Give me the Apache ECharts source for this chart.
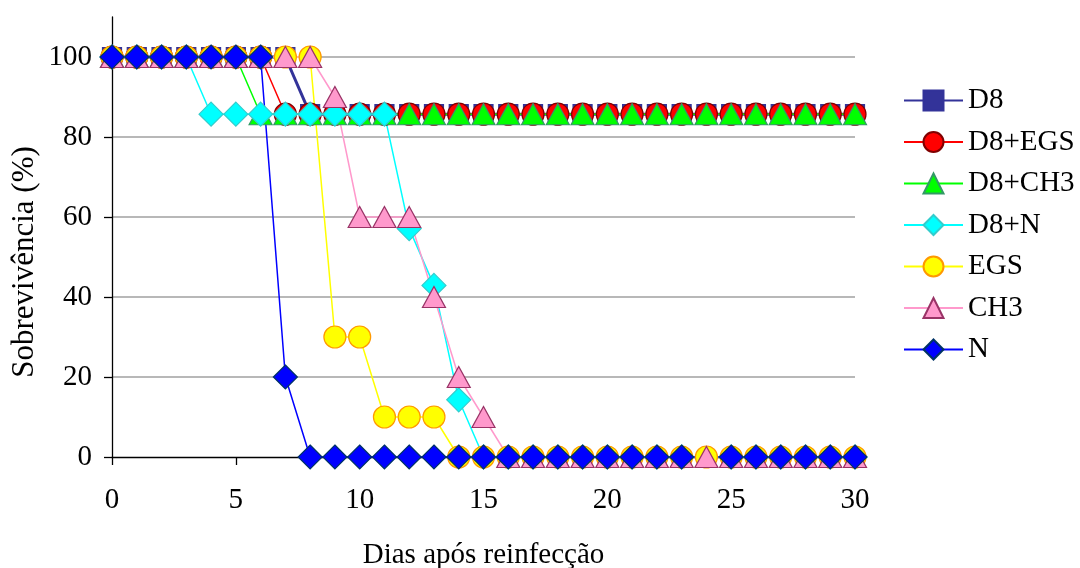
<!DOCTYPE html>
<html>
<head>
<meta charset="utf-8">
<script src="https://cdn.jsdelivr.net/npm/echarts@6/dist/echarts.min.js"></script>
<style>
  html, body { margin: 0; padding: 0; background: #fff; }
  #chart { width: 1080px; height: 568px; }
</style>
</head>
<body>
<div id="chart"></div>
<script>
// Days after reinfection
const days = [0,1,2,3,4,5,6,7,8,9,10,11,12,13,14,15,16,17,18,19,20,21,22,23,24,25,26,27,28,29,30];

// Survival (%) per group, one value per day
const d8 =     [100,100,100,100,100,100,100,100,85.7,85.7,85.7,85.7,85.7,85.7,85.7,85.7,85.7,85.7,85.7,85.7,85.7,85.7,85.7,85.7,85.7,85.7,85.7,85.7,85.7,85.7,85.7];
const d8Egs =  [100,100,100,100,100,100,100,85.7,85.7,85.7,85.7,85.7,85.7,85.7,85.7,85.7,85.7,85.7,85.7,85.7,85.7,85.7,85.7,85.7,85.7,85.7,85.7,85.7,85.7,85.7,85.7];
const d8Ch3 =  [100,100,100,100,100,100,85.7,85.7,85.7,85.7,85.7,85.7,85.7,85.7,85.7,85.7,85.7,85.7,85.7,85.7,85.7,85.7,85.7,85.7,85.7,85.7,85.7,85.7,85.7,85.7,85.7];
const d8N =    [100,100,100,100,85.7,85.7,85.7,85.7,85.7,85.7,85.7,85.7,57.1,42.9,14.3,0,0,0,0,0,0,0,0,0,null,0,0,0,0,0,0];
const egs =    [100,100,100,100,100,100,100,100,100,30,30,10,10,10,0,0,0,0,0,0,0,0,0,0,0,0,0,0,0,0,0];
const ch3 =    [100,100,100,100,100,100,100,100,100,90,60,60,60,40,20,10,0,0,0,0,0,0,0,0,0,0,0,0,0,0,0];
const nGroup = [100,100,100,100,100,100,100,20,0,0,0,0,0,0,0,0,0,0,0,0,0,0,0,0,null,0,0,0,0,0,0];

const yTicks = [0, 20, 40, 60, 80, 100];
const xTicks = [0, 5, 10, 15, 20, 25, 30];

const FONT = 'Liberation Serif';

function pairs(values) {
  return days.map((d, i) => [d, values[i]]);
}

function lineSeries(name, values, symbol, size, fill, border, lineColor, lineWidth) {
  return {
    name: name,
    type: 'line',
    data: pairs(values),
    symbol: symbol,
    symbolSize: size,
    showAllSymbol: true,
    connectNulls: true,
    clip: false,
    animation: false,
    lineStyle: { color: lineColor, width: lineWidth },
    itemStyle: { color: fill, borderColor: border, borderWidth: 1.2, opacity: 1 },
    emphasis: { disabled: true }
  };
}

const chart = echarts.init(document.getElementById('chart'), null, { renderer: 'canvas' });

chart.setOption({
  backgroundColor: '#ffffff',
  animation: false,
  textStyle: { fontFamily: FONT, color: '#000' },
  grid: { left: 112, right: 225, top: 17, bottom: 111, containLabel: false, outerBoundsMode: 'none' },
  legend: {
    orient: 'vertical',
    left: 898,
    top: 81,
    itemWidth: 59,
    itemHeight: 25,
    itemGap: 12.5,
    textStyle: { fontFamily: FONT, fontSize: 29, color: '#000' },
    data: ['D8', 'D8+EGS', 'D8+CH3', 'D8+N', 'EGS', 'CH3', 'N']
  },
  // Vertical axis title, drawn as a rotated text element
  graphic: [{
    type: 'text',
    x: 25,
    y: 262,
    rotation: Math.PI / 2,
    style: {
      text: 'Sobrevivência (%)',
      font: '31px "Liberation Serif"',
      fill: '#000',
      textAlign: 'center',
      textVerticalAlign: 'middle'
    }
  }],
  xAxis: {
    type: 'value',
    min: 0,
    max: 30,
    interval: 5,
    name: 'Dias após reinfecção',
    nameLocation: 'middle',
    nameGap: 84,
    nameTextStyle: { fontFamily: FONT, fontSize: 29, color: '#000' },
    axisLine: { show: true, onZero: false, lineStyle: { color: '#000', width: 1.3 } },
    axisTick: { show: true, inside: false, length: 8, lineStyle: { color: '#000', width: 1.3 } },
    axisLabel: { fontFamily: FONT, fontSize: 29, color: '#000', margin: 29, customValues: xTicks },
    splitLine: { show: false }
  },
  yAxis: {
    type: 'value',
    min: 0,
    max: 110,
    interval: 20,
    axisLine: { show: true, lineStyle: { color: '#000', width: 1.3 } },
    axisTick: { show: true, inside: false, length: 8, lineStyle: { color: '#000', width: 1.3 }, customValues: yTicks },
    axisLabel: { fontFamily: FONT, fontSize: 29, color: '#000', margin: 20, customValues: yTicks },
    splitLine: {
      show: true,
      lineStyle: {
        color: ['transparent', '#a0a0a0', '#a0a0a0', '#a0a0a0', '#a0a0a0', '#a0a0a0', 'transparent'],
        width: 1.6
      }
    }
  },
  series: [
    lineSeries('D8', d8, 'rect', 19, '#333399', '#333399', '#333399', 3),
    lineSeries('D8+EGS', d8Egs, 'circle', 22, '#ff0000', '#800000', '#ff0000', 1.5),
    lineSeries('D8+CH3', d8Ch3, 'triangle', [23, 21], '#00ff00', '#339966', '#00ff00', 1.5),
    lineSeries('D8+N', d8N, 'diamond', 24, '#00ffff', '#33cccc', '#00ffff', 1.5),
    lineSeries('EGS', egs, 'circle', 22, '#ffff00', '#ff9900', '#ffff00', 1.5),
    lineSeries('CH3', ch3, 'triangle', [23, 21], '#ff99cc', '#993366', '#ff99cc', 1.5),
    lineSeries('N', nGroup, 'diamond', 24, '#0000ff', '#003366', '#0000ff', 1.5)
  ]
});
</script>
</body>
</html>
